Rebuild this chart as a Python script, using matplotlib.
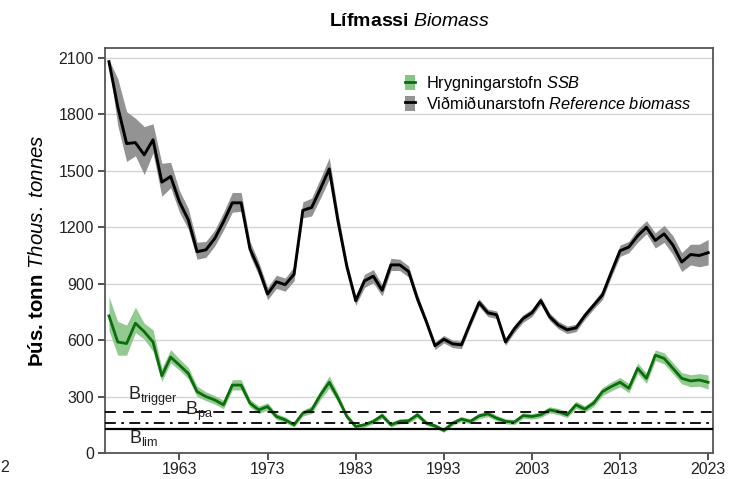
import matplotlib
matplotlib.use("Agg")
import matplotlib.pyplot as plt
from matplotlib.patches import Patch
from matplotlib.lines import Line2D

plt.rcParams['font.family'] = ['Liberation Sans', 'DejaVu Sans']
plt.rcParams['mathtext.fontset'] = 'custom'
plt.rcParams['mathtext.rm'] = 'Liberation Sans'
plt.rcParams['mathtext.it'] = 'Liberation Sans:italic'
plt.rcParams['mathtext.bf'] = 'Liberation Sans:bold'

years = list(range(1955, 2024))

ref_biomass = [2080, 1840, 1645, 1650, 1585, 1665, 1440, 1470, 1335, 1240,
               1070, 1080, 1140, 1230, 1330, 1330, 1085, 980, 845, 910,
               895, 950, 1290, 1305, 1405, 1510, 1230, 990, 810, 915,
               940, 865, 1000, 1000, 965, 820, 700, 570, 605, 580,
               575, 690, 800, 745, 735, 590, 660, 715, 745, 810,
               725, 680, 655, 665, 730, 785, 840, 960, 1075, 1095,
               1155, 1200, 1130, 1165, 1105, 1015, 1055, 1050, 1065]
ref_lo = [2070, 1740, 1550, 1580, 1480, 1595, 1365, 1410, 1280, 1190,
          1030, 1040, 1100, 1185, 1280, 1285, 1050, 945, 815, 875,
          860, 915, 1250, 1260, 1355, 1455, 1190, 960, 785, 880,
          905, 835, 970, 970, 935, 795, 680, 550, 585, 560,
          555, 670, 780, 725, 715, 572, 640, 695, 725, 790,
          705, 660, 635, 645, 710, 765, 815, 935, 1045, 1065,
          1120, 1165, 1090, 1120, 1055, 965, 1000, 990, 1000]
ref_hi = [2090, 1990, 1815, 1780, 1735, 1750, 1540, 1545, 1395, 1300,
          1120, 1125, 1185, 1280, 1385, 1385, 1125, 1015, 880, 945,
          930, 990, 1335, 1355, 1460, 1570, 1275, 1020, 835, 950,
          975, 895, 1035, 1030, 995, 845, 720, 590, 625, 600,
          595, 710, 820, 765, 755, 608, 680, 735, 765, 830,
          745, 700, 675, 685, 750, 805, 865, 985, 1105, 1125,
          1190, 1235, 1170, 1210, 1155, 1065, 1110, 1110, 1135]

ssb = [729, 590, 582, 690, 645, 590, 410, 510, 467, 423,
       326, 300, 282, 256, 361, 361, 265, 229, 247, 194,
       176, 150, 212, 229, 309, 376, 291, 194, 141, 150,
       168, 199, 150, 168, 171, 203, 159, 144, 120, 159,
       180, 168, 197, 208, 185, 168, 164, 199, 194, 203,
       229, 220, 203, 256, 233, 265, 326, 353, 376, 344,
       450, 397, 520, 503, 450, 397, 383, 388, 376]
ssb_lo = [650, 520, 520, 640, 605, 540, 380, 480, 440, 395,
          300, 278, 260, 235, 335, 335, 245, 210, 228, 178,
          162, 138, 196, 210, 285, 345, 270, 180, 130, 138,
          155, 184, 138, 155, 158, 188, 147, 133, 110, 147,
          167, 155, 183, 193, 171, 155, 151, 185, 180, 188,
          213, 204, 188, 238, 216, 246, 305, 330, 352, 320,
          423, 370, 492, 474, 422, 368, 352, 355, 340]
ssb_hi = [830, 700, 680, 775, 690, 655, 450, 550, 500, 455,
          355, 325, 305, 280, 390, 390, 285, 250, 267, 210,
          192, 163, 228, 250, 335, 410, 315, 210, 152, 162,
          182, 215, 162, 182, 185, 218, 172, 156, 130, 172,
          194, 182, 212, 224, 200, 182, 178, 214, 209, 218,
          246, 237, 219, 275, 251, 285, 348, 377, 401, 369,
          478, 425, 548, 533, 480, 428, 416, 422, 415]

ref_points = {'trigger': 220, 'pa': 160, 'lim': 125}
x_ticks = [1963, 1973, 1983, 1993, 2003, 2013, 2023]
y_ticks = [0, 300, 600, 900, 1200, 1500, 1800, 2100]

fig = plt.figure(figsize=(7.35, 4.79), dpi=100)
ax = fig.add_axes([105/735, 26/479, 608/735, 405/479])

for yt in y_ticks[1:]:
    ax.axhline(yt, color='#d4d4d4', lw=1.0, zorder=0)

gray_band = '#939393'
green_band = '#86c586'
green_line = '#0b6e0b'

ax.fill_between(years, ref_lo, ref_hi, color=gray_band, lw=0, zorder=2)
ax.plot(years, ref_biomass, color='black', lw=2.1, zorder=3)
ax.fill_between(years, ssb_lo, ssb_hi, color=green_band, alpha=0.9, lw=0, zorder=2)
ax.plot(years, ssb, color=green_line, lw=2.0, zorder=3)

ax.axhline(ref_points['trigger'], color='black', lw=1.3, ls=(0, (6, 4)), zorder=4)
ax.axhline(ref_points['pa'], color='black', lw=1.3, ls=(0, (6, 3, 1.5, 3)), zorder=4)
ax.axhline(ref_points['lim'], color='black', lw=1.6, ls='-', zorder=4)

ax.text(1957.15, 280, r'B$_{\mathrm{trigger}}$', fontsize=13, color='#222222',
        ha='left', va='baseline', zorder=5)
ax.text(1963.6, 200, r'B$_{\mathrm{pa}}$', fontsize=13, color='#222222',
        ha='left', va='baseline', zorder=5)
ax.text(1957.3, 52, r'B$_{\mathrm{lim}}$', fontsize=13, color='#222222',
        ha='left', va='baseline', zorder=5)

ax.set_xlim(1954.55, 2023.55)
ax.set_ylim(0, 2153)
ax.set_xticks(x_ticks)
ax.set_yticks(y_ticks)
ax.tick_params(axis='both', direction='out', length=5, width=1.3, color='#444444',
               labelsize=11.5, labelcolor='#222222')
ax.tick_params(axis='x', pad=1.5)
ax.tick_params(axis='y', pad=3)
for s in ax.spines.values():
    s.set_color('#555555')
    s.set_linewidth(1.3)

ax.set_title(r'Lífmassi $\mathit{Biomass}$', fontsize=14, fontweight='bold', pad=16)
ax.set_ylabel(r'Þús. tonn $\mathit{Thous.\ tonnes}$', fontsize=14.7, fontweight='bold',
              labelpad=8)

h1 = (Patch(facecolor=green_band, edgecolor='none'), Line2D([], [], color=green_line, lw=2))
h2 = (Patch(facecolor=gray_band, edgecolor='none'), Line2D([], [], color='black', lw=2))
leg = ax.legend([h1, h2], [r'Hrygningarstofn $\mathit{SSB}$',
                           r'Viðmiðunarstofn $\mathit{Reference\ biomass}$'],
                loc='upper left', bbox_to_anchor=(0.493, 0.935), frameon=False,
                fontsize=11.8, handlelength=0.6, handleheight=1.0,
                handletextpad=0.7, labelspacing=0.1, borderpad=0.0,
                borderaxespad=0.0)

fig.text(0.0, 1 - 468/479, '2', fontsize=11.5, color='#222222', ha='left', va='center')

fig.savefig('out.png', dpi=100)
